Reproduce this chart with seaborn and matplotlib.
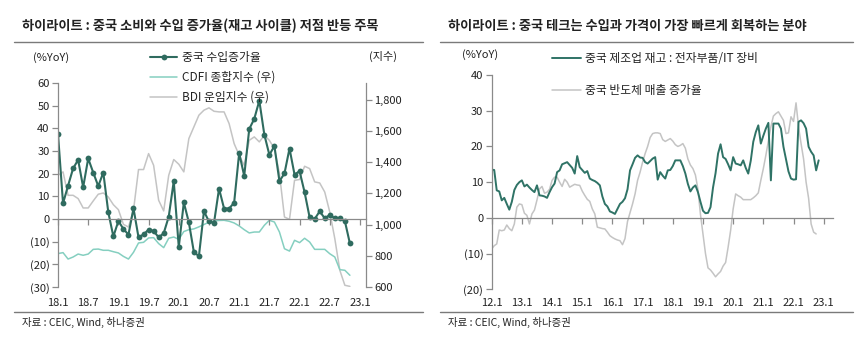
import numpy as np
import pandas as pd
import matplotlib
matplotlib.use("Agg")
import matplotlib.pyplot as plt
import seaborn as sns
from matplotlib.lines import Line2D

sns.set_theme(style="ticks")
plt.rcParams['font.family'] = ['Noto Sans CJK KR', 'DejaVu Sans']
plt.rcParams['axes.unicode_minus'] = False

# ---------------- Left chart data (monthly, 2018.1 - 2022.11) ----------------
left_tick_labels = ["18.1", "18.7", "19.1", "19.7", "20.1", "20.7",
                    "21.1", "21.7", "22.1", "22.7", "23.1"]
china_imports = [37.5, 6.9, 14.7, 22.3, 26.1, 14.0, 26.7, 20.5, 14.5, 20.5,
                 2.9, -7.7, -0.9, -4.4, -6.9, 4.7, -8.1, -6.8, -4.7, -5.3,
                 -8.1, -6.3, 1.0, 16.7, -12.4, 7.3, -1.5, -14.6, -16.4, 3.4,
                 -1.1, -1.7, 13.4, 4.6, 4.6, 7.2, 29.1, 19.0, 39.7, 44.2,
                 52.2, 37.2, 28.3, 32.2, 16.7, 20.1, 31.1, 19.6, 21.1, 11.8,
                 0.7, 0.0, 3.4, 0.3, 1.8, 0.3, 0.3, -0.9, -10.8]
cdfi_index = [814, 820, 779, 792, 811, 803, 811, 841, 843, 835,
              835, 826, 818, 796, 779, 822, 882, 886, 914, 916,
              878, 852, 912, 920, 905, 955, 967, 972, 985, 1000,
              1015, 1022, 1026, 1027, 1021, 1010, 991, 967, 946, 952,
              952, 995, 1027, 1016, 952, 845, 830, 899, 884, 912,
              888, 841, 841, 841, 813, 792, 711, 707, 675]
bdi_index = [1315, 1337, 1187, 1187, 1166, 1106, 1106, 1151, 1194, 1202,
             1176, 1127, 1095, 1001, 984, 1091, 1352, 1352, 1454, 1379,
             1155, 1087, 1315, 1416, 1386, 1337, 1550, 1625, 1700, 1732,
             1747, 1725, 1721, 1721, 1646, 1518, 1443, 1379, 1539, 1561,
             1529, 1571, 1539, 1486, 1326, 1048, 1033, 1283, 1288, 1373,
             1358, 1273, 1266, 1208, 1080, 910, 707, 611, 604]

# ---------------- Right chart data (monthly, 2012.1 - ) ----------------
right_tick_labels = ["12.1", "13.1", "14.1", "15.1", "16.1", "17.1",
                     "18.1", "19.1", "20.1", "21.1", "22.1", "23.1"]
it_inventory = [13.5, 13.4, 7.7, 7.4, 4.9, 5.6, 3.9, 2.3, 4.5, 7.8,
                9.2, 10.0, 10.5, 8.8, 9.3, 8.5, 7.8, 7.2, 9.1, 6.3,
                6.2, 6.0, 5.6, 7.2, 8.6, 9.6, 12.8, 13.3, 15.0, 15.3,
                15.6, 14.8, 14.0, 12.4, 17.3, 14.2, 13.4, 12.6, 13.1, 11.0,
                10.6, 10.3, 9.8, 9.1, 6.0, 3.9, 3.2, 1.8, 1.5, 1.1,
                2.5, 3.9, 4.5, 5.5, 8.0, 13.3, 15.0, 16.8, 17.5, 16.9,
                16.8, 15.6, 15.2, 15.9, 16.6, 17.0, 10.7, 12.8, 11.8, 11.0,
                13.3, 13.4, 14.5, 16.1, 16.1, 16.1, 14.5, 12.4, 9.5, 7.4,
                8.5, 9.1, 7.2, 4.5, 2.0, 1.3, 1.4, 3.0, 8.5, 12.5,
                18.0, 20.6, 17.0, 16.5, 15.0, 13.3, 17.0, 15.2, 15.0, 14.7,
                16.1, 14.0, 12.4, 16.0, 21.3, 24.0, 25.9, 20.8, 23.0, 25.0,
                26.6, 10.5, 26.4, 26.4, 26.4, 25.0, 19.9, 16.5, 13.0, 11.0,
                10.7, 10.8, 26.9, 27.3, 26.5, 25.0, 19.9, 18.5, 17.5, 13.3,
                16.1]
semi_sales = [-8.7, -7.8, -7.3, -3.4, -3.6, -3.4, -2.0, -3.0, -3.6, -1.7,
              3.0, 3.9, 3.7, 1.3, 0.7, -1.7, 1.1, 2.2, 5.0, 8.1,
              8.8, 6.9, 7.2, 8.0, 10.5, 11.4, 11.4, 10.0, 8.8, 10.8,
              10.0, 8.6, 9.0, 9.4, 9.2, 9.1, 7.5, 6.3, 5.2, 4.6,
              2.5, 1.1, -2.6, -2.8, -3.0, -3.1, -4.0, -5.0, -5.5, -5.9,
              -6.2, -6.4, -7.5, -5.8, -1.0, 1.5, 3.9, 6.7, 10.5, 12.8,
              15.6, 18.0, 20.0, 22.5, 23.6, 23.8, 23.8, 23.6, 21.9, 21.4,
              21.8, 22.2, 21.5, 20.5, 20.0, 20.3, 20.8, 19.5, 16.5, 14.8,
              13.8, 12.0, 8.0, 1.0, -4.5, -10.0, -14.0, -14.6, -15.5, -16.5,
              -15.7, -15.0, -13.5, -12.5, -8.2, -3.5, 2.5, 6.7, 6.2, 5.8,
              5.1, 5.1, 5.1, 5.1, 5.6, 6.2, 7.0, 10.5, 13.8, 17.5,
              21.5, 25.5, 28.5, 29.2, 29.7, 28.5, 27.3, 23.6, 23.8, 28.3,
              27.0, 32.2, 25.5, 20.8, 16.5, 10.0, 5.5, -1.7, -4.0, -4.5]

# ---------------- styling ----------------
W, H = 863, 347
TXT = '#222222'
SPINE = '#8a8a8a'
DARK = '#2f6b5f'
DARK_R = '#2f7366'
TEAL = '#85cfc0'
GRAY = '#c4c4c4'


def paren_fmt(v):
    return f"({abs(int(v))})" if v < 0 else f"{int(v)}"


fig = plt.figure(figsize=(W / 100, H / 100), dpi=100)
fig.patch.set_facecolor('white')


def fx(px):
    return px / W


def fy(py):
    return 1 - py / H


# ================= LEFT CHART =================
axL = fig.add_axes([fx(58), fy(287), fx(366 - 58), (287 - 83) / H])
axL2 = axL.twinx()

dfL = pd.DataFrame({
    'm': np.arange(len(china_imports)),
    'imports': china_imports,
    'cdfi': cdfi_index,
    'bdi': bdi_index,
})

sns.lineplot(data=dfL, x='m', y='bdi', ax=axL2, color=GRAY, lw=1.1)
sns.lineplot(data=dfL, x='m', y='cdfi', ax=axL2, color=TEAL, lw=1.1)
sns.lineplot(data=dfL, x='m', y='imports', ax=axL, color=DARK, lw=1.5,
             marker='o', markersize=4.2, markeredgewidth=0)

axL.set_zorder(axL2.get_zorder() + 1)
axL.patch.set_visible(False)

axL.set_xlim(0, 61.2)
axL.set_ylim(-30, 60)
axL2.set_ylim(600, 1906)

yt = list(range(-30, 61, 10))
axL.set_yticks(yt)
axL.set_yticklabels([paren_fmt(v) for v in yt])
rt = list(range(600, 1801, 200))
axL2.set_yticks(rt)
axL2.set_yticklabels([f"{v:,}" for v in rt])

axL.set_xticks(np.arange(0, 61, 6))
axL.spines['bottom'].set_position(('data', 0))
axL.tick_params(axis='x', direction='out', length=4, width=0.9, color=SPINE,
                labelbottom=False)
axL.tick_params(axis='y', direction='out', length=4, width=0.9, color=SPINE,
                labelsize=8, labelcolor=TXT, pad=2)
axL2.tick_params(axis='y', direction='out', length=4, width=0.9, color=SPINE,
                 labelsize=8, labelcolor=TXT, pad=2)
for s in ['top', 'right']:
    axL.spines[s].set_visible(False)
for s in ['top', 'bottom', 'left']:
    axL2.spines[s].set_visible(False)
for sp in [axL.spines['left'], axL.spines['bottom'], axL2.spines['right']]:
    sp.set_color(SPINE)
    sp.set_linewidth(0.9)
axL.set_xlabel('')
axL.set_ylabel('')
axL2.set_xlabel('')
axL2.set_ylabel('')

secL = axL.secondary_xaxis('bottom')
secL.set_xticks(np.arange(0, 61, 6))
secL.set_xticklabels(left_tick_labels)
secL.tick_params(length=0, labelsize=8, labelcolor=TXT, pad=8)
secL.spines['bottom'].set_visible(False)

hL = [Line2D([], [], color=DARK, lw=1.5, marker='o', markersize=4.2, markeredgewidth=0),
      Line2D([], [], color=TEAL, lw=1.1),
      Line2D([], [], color=GRAY, lw=1.1)]
legL = fig.legend(hL, ['중국 수입증가율', 'CDFI 종합지수 (우)', 'BDI 운임지수 (우)'],
                  loc='upper left', bbox_to_anchor=(fx(150), fy(51)),
                  frameon=False, fontsize=8.5, handlelength=2.3, handletextpad=0.45,
                  labelspacing=0.58, borderpad=0, borderaxespad=0, numpoints=1)
for t in legL.get_texts():
    t.set_color(TXT)

fig.text(fx(51), fy(57.5), '(%YoY)', fontsize=8, color=TXT, ha='center', va='center')
fig.text(fx(383), fy(56), '(지수)', fontsize=8, color=TXT, ha='center', va='center')

# ================= RIGHT CHART =================
axR = fig.add_axes([fx(491.7), fy(289.3), fx(833 - 491.7), (289.3 - 75) / H])
dfR1 = pd.DataFrame({'m': np.arange(len(it_inventory)), 'v': it_inventory})
dfR2 = pd.DataFrame({'m': np.arange(len(semi_sales)), 'v': semi_sales})
sns.lineplot(data=dfR2, x='m', y='v', ax=axR, color=GRAY, lw=1.1)
sns.lineplot(data=dfR1, x='m', y='v', ax=axR, color=DARK_R, lw=1.4)
axR.set_xlim(0, 135.7)
axR.set_ylim(-20, 40)
yr = list(range(-20, 41, 10))
axR.set_yticks(yr)
axR.set_yticklabels([paren_fmt(v) for v in yr])
axR.set_xticks(np.arange(0, 133, 12))
axR.spines['bottom'].set_position(('data', 0))
axR.tick_params(axis='x', direction='out', length=4, width=0.9, color=SPINE,
                labelbottom=False)
axR.tick_params(axis='y', direction='out', length=4, width=0.9, color=SPINE,
                labelsize=8, labelcolor=TXT, pad=2)
for s in ['top', 'right']:
    axR.spines[s].set_visible(False)
for s in ['left', 'bottom']:
    axR.spines[s].set_color(SPINE)
    axR.spines[s].set_linewidth(0.9)
axR.set_xlabel('')
axR.set_ylabel('')

secR = axR.secondary_xaxis('bottom')
secR.set_xticks(np.arange(0, 133, 12))
secR.set_xticklabels(right_tick_labels)
secR.tick_params(length=0, labelsize=8, labelcolor=TXT, pad=6)
secR.spines['bottom'].set_visible(False)

hR = [Line2D([], [], color=DARK_R, lw=1.4), Line2D([], [], color=GRAY, lw=1.1)]
legR = fig.legend(hR, ['중국 제조업 재고 : 전자부품/IT 장비', '중국 반도체 매출 증가율'],
                  loc='upper left', bbox_to_anchor=(fx(551.7), fy(52.5)),
                  frameon=False, fontsize=8.5, handlelength=2.5, handletextpad=0.3,
                  labelspacing=1.57, borderpad=0, borderaxespad=0)
for t in legR.get_texts():
    t.set_color(TXT)

fig.text(fx(480), fy(55), '(%YoY)', fontsize=8, color=TXT, ha='center', va='center')

# ================= titles, rules, sources =================
fig.text(fx(22), fy(26), '하이라이트 : 중국 소비와 수입 증가율(재고 사이클) 저점 반등 주목',
         fontsize=9.5, fontweight='bold', color=TXT, ha='left', va='center')
fig.text(fx(448), fy(26), '하이라이트 : 중국 테크는 수입과 가격이 가장 빠르게 회복하는 분야',
         fontsize=9.5, fontweight='bold', color=TXT, ha='left', va='center')
for x0, x1 in [(14, 423), (440, 853)]:
    fig.add_artist(Line2D([fx(x0), fx(x1)], [fy(42.3)] * 2, color='#7a7a7a', lw=1.0))
    fig.add_artist(Line2D([fx(x0), fx(x1)], [fy(311.7)] * 2, color='#7a7a7a', lw=1.0))
fig.text(fx(22), fy(322.5), '자료 : CEIC, Wind, 하나증권', fontsize=7.5, color=TXT,
         ha='left', va='center')
fig.text(fx(448), fy(322.5), '자료 : CEIC, Wind, 하나증권', fontsize=7.5, color=TXT,
         ha='left', va='center')

fig.savefig('out.png', dpi=100, facecolor='white')
